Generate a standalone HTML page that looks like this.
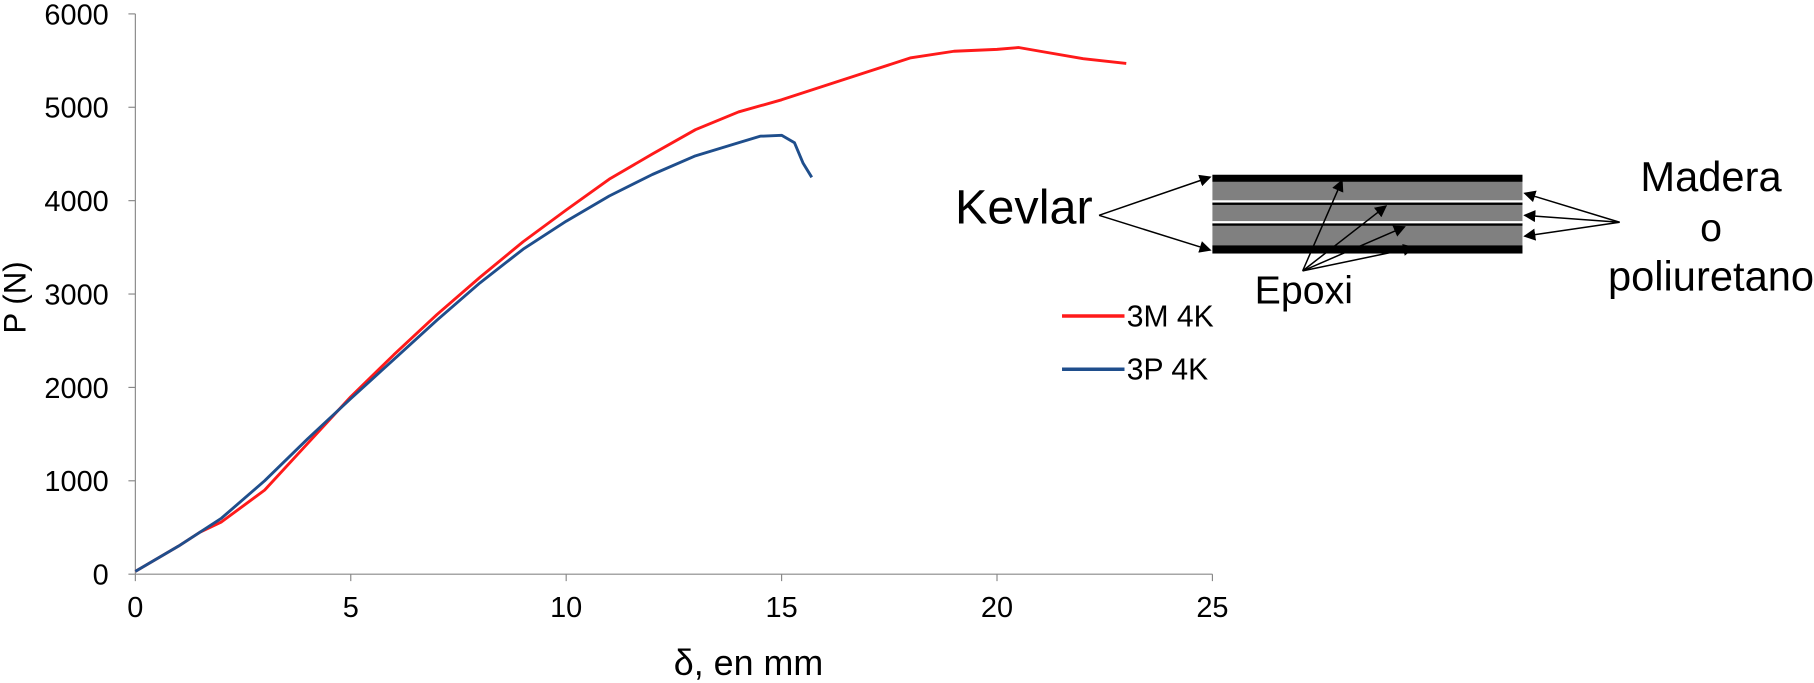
<!DOCTYPE html>
<html><head><meta charset="utf-8"><style>
html,body{margin:0;padding:0;background:#fff}
svg{display:block}
text{font-family:"Liberation Sans",Arial,sans-serif;fill:#000}
</style></head><body>
<svg width="1814" height="683" viewBox="0 0 1568 590" preserveAspectRatio="none">
<defs><marker id="ah" markerWidth="8" markerHeight="8" refX="7" refY="4" orient="auto"><path d="M0,0L8,4L0,8z" fill="#000"/></marker></defs>
<g id="axes"></g>
<g id="series"></g>
<text x="22" y="257" font-size="27" text-anchor="middle" transform="rotate(-90 22 257)">P (N)</text>
<text x="647" y="583" font-size="31" text-anchor="middle" font-family="Liberation Serif">δ, en mm</text>
<g>
<line x1="918" y1="273" x2="972" y2="273" stroke="#ff1a1a" stroke-width="3"/>
<text x="974" y="282" font-size="26">3M 4K</text>
<line x1="918" y1="319" x2="972" y2="319" stroke="#1f4e8c" stroke-width="3"/>
<text x="974" y="328" font-size="26">3P 4K</text>
</g>
<g>
<rect x="1048" y="151" width="268" height="68" fill="#808080"/>
<rect x="1048" y="151" width="268" height="6" fill="#000"/>
<rect x="1048" y="212" width="268" height="7" fill="#000"/>
<rect x="1048" y="173" width="268" height="2" fill="#fff"/><rect x="1048" y="175" width="268" height="2" fill="#000"/>
<rect x="1048" y="191" width="268" height="2" fill="#fff"/><rect x="1048" y="193" width="268" height="2" fill="#000"/>
<g stroke="#000" stroke-width="1.3" marker-end="url(#ah)">
<line x1="950" y1="186" x2="1046" y2="153"/><line x1="950" y1="186" x2="1046" y2="216"/>
<line x1="1126" y1="234" x2="1160" y2="156"/><line x1="1126" y1="234" x2="1198" y2="178"/>
<line x1="1126" y1="234" x2="1214" y2="196"/><line x1="1126" y1="234" x2="1222" y2="214"/>
<line x1="1400" y1="192" x2="1318" y2="167"/><line x1="1400" y1="192" x2="1318" y2="186"/><line x1="1400" y1="192" x2="1318" y2="204"/>
</g>
<text x="885" y="193" font-size="42" text-anchor="middle">Kevlar</text>
<text x="1127" y="262" font-size="34" text-anchor="middle">Epoxi</text>
<text x="1479" y="165" font-size="36" text-anchor="middle">Madera</text>
<text x="1479" y="208" font-size="34" text-anchor="middle">o</text>
<text x="1479" y="251" font-size="36" text-anchor="middle">poliuretano</text>
</g>
</svg>
<script>
const xTicks=[0,5,10,15,20,25];
const yTicks=[0,1000,2000,3000,4000,5000,6000];
const redX=[0,1,1.5,2,3,4,5,6,7,8,9,10,11,12,13,14,15,16,17,18,19,20,20.5,21,22,23];
const redY=[30,300,450,560,900,1400,1900,2350,2780,3180,3560,3900,4230,4500,4760,4950,5080,5230,5380,5530,5600,5620,5640,5600,5520,5470];
const blueX=[0,1,2,3,4,5,6,7,8,9,10,11,12,13,14,14.5,15,15.3,15.5,15.7];
const blueY=[30,300,600,1000,1450,1880,2300,2720,3120,3480,3780,4050,4280,4480,4620,4690,4700,4620,4400,4250];
const NS='http://www.w3.org/2000/svg';
const X0=117,X1=1048,Y0=496,Y1=12;
function sx(v){return X0+(X1-X0)*v/25;}
function sy(v){return Y0-(Y0-Y1)*v/6000;}
function mk(t,a,p){const e=document.createElementNS(NS,t);for(const k in a)e.setAttribute(k,a[k]);p.appendChild(e);return e;}
const ax=document.getElementById('axes');
const xa=mk('line',{x1:X0,y1:Y0,x2:X1,y2:Y0,stroke:'#888','stroke-width':1},ax);


const ya=mk('line',{x1:X0,y1:Y1,x2:X0,y2:Y0,stroke:'#888','stroke-width':1},ax);


xTicks.forEach(v=>{
 mk('line',{x1:sx(v),y1:Y0,x2:sx(v),y2:Y0+6,stroke:'#888'},ax);
 const t=mk('text',{x:sx(v),y:Y0+37,'font-size':25,'text-anchor':'middle'},ax);t.textContent=v;
 
 
});
yTicks.forEach(v=>{
 mk('line',{x1:X0-6,y1:sy(v),x2:X0,y2:sy(v),stroke:'#888'},ax);
 const t=mk('text',{x:X0-23,y:sy(v)+9,'font-size':25,'text-anchor':'end'},ax);t.textContent=v;
 
 
});
const sg=document.getElementById('series');
function line(xs,ys,c,n){
 const p=mk('polyline',{points:xs.map((x,i)=>sx(x)+','+sy(ys[i])).join(' '),fill:'none',stroke:c,'stroke-width':2.5,'stroke-linejoin':'round'},sg);
 
 
}
line(redX,redY,'#ff1a1a','series-3m-4k');
line(blueX,blueY,'#1f4e8c','series-3p-4k');
</script>
</body></html>
